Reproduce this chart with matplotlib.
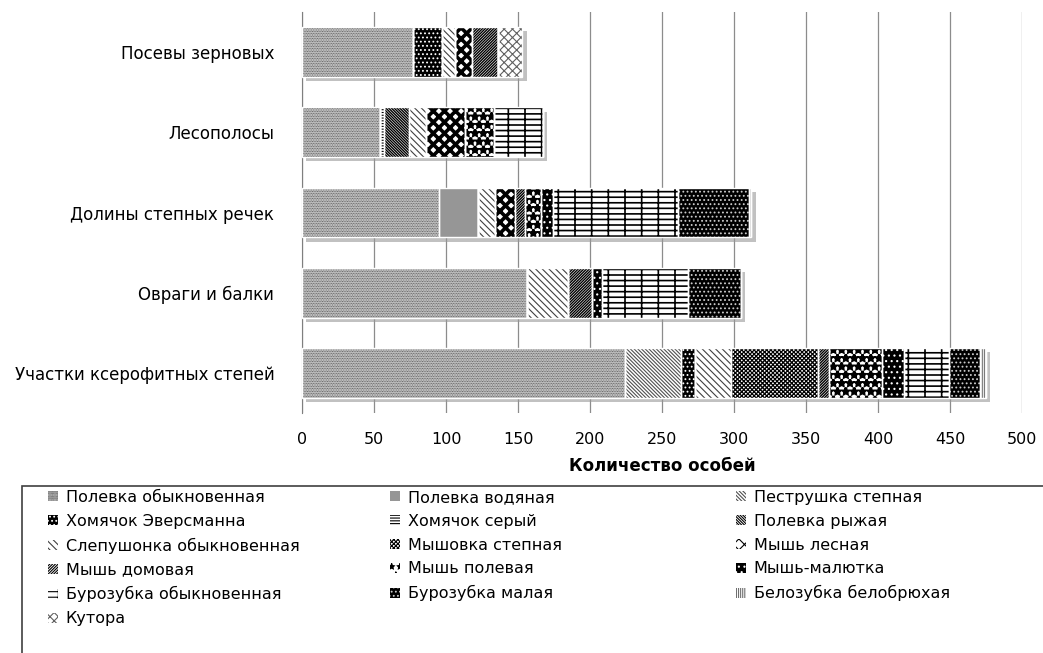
import numpy as np
import matplotlib.pyplot as plt
import matplotlib.patches as mpatches
import matplotlib.patheffects as pe

plt.rcParams['font.family'] = ['DejaVu Sans']
plt.rcParams['hatch.linewidth'] = 0.8

categories = ['Посевы зерновых', 'Лесополосы', 'Долины степных речек',
              'Овраги и балки', 'Участки ксерофитных степей']

species = ['Полевка обыкновенная', 'Полевка водяная', 'Пеструшка степная',
           'Хомячок Эверсманна', 'Хомячок серый', 'Полевка рыжая',
           'Слепушонка обыкновенная', 'Мышовка степная', 'Мышь лесная',
           'Мышь домовая', 'Мышь полевая', 'Мышь-малютка',
           'Бурозубка обыкновенная', 'Бурозубка малая', 'Белозубка белобрюхая',
           'Кутора']

# counts per habitat, in species order
posevy = [77, 0, 0, 20, 0, 0, 9, 0, 12, 18, 0, 0, 0, 0, 0, 17]
lesopolosy = [54, 0, 0, 0, 3, 17, 12, 0, 27, 0, 20, 0, 34, 0, 0, 0]
doliny = [95, 27, 0, 0, 0, 0, 12, 0, 14, 7, 11, 8, 87, 49, 2, 0]
ovragi = [156, 0, 0, 0, 0, 0, 29, 0, 0, 16, 0, 7, 60, 37, 0, 0]
uchastki = [224, 0, 39, 10, 0, 0, 25, 60, 0, 8, 37, 15, 31, 22, 4, 0]

xticks = [0, 50, 100, 150, 200, 250, 300, 350, 400, 450, 500]

data = np.array([posevy, lesopolosy, doliny, ovragi, uchastki], dtype=float)

# (face, hatch color, hatch, hatch linewidth)
styles = [
    ('#d8d8d8', '#444444', '.' * 10, 0.6),
    ('#969696', '#969696', None, 0.8),
    ('white', '#505050', '\\' * 9, 0.8),
    ('black', 'white', '....', 0.8),
    ('white', 'black', '------', 0.8),
    ('white', 'black', '\\' * 12, 1.0),
    ('white', '#404040', '\\' * 5, 0.8),
    ('white', 'black', 'x' * 8, 0.9),
    ('white', 'black', 'XXX', 2.6),
    ('white', 'black', '/' * 12, 1.0),
    ('white', 'black', '**', 1.8),
    ('black', 'white', '...', 0.8),
    ('white', 'black', '---|', 1.2),
    ('black', '#cccccc', '....', 0.8),
    ('white', '#707070', '|' * 8, 0.8),
    ('white', '#606060', 'xxxx', 0.8),
]

fig = plt.figure(figsize=(10.43, 6.53), dpi=100)
ax = fig.add_axes([0.2896, 0.3675, 0.6904, 0.6141])

ypos = np.arange(len(categories))
h = 0.62
totals = data.sum(axis=1)

# shadow under each bar
ax.barh(ypos, totals, h, color='white', linewidth=0, zorder=2,
        path_effects=[pe.SimplePatchShadow(offset=(3, -3), shadow_rgbFace='#999999', alpha=0.6),
                      pe.Normal()])

left = np.zeros(len(categories))
handles = []
for i, name in enumerate(species):
    fc, hc, hatch, hlw = styles[i]
    vals = data[:, i]
    with plt.rc_context({'hatch.linewidth': hlw}):
        bars = ax.barh(ypos, vals, h, left=left, color=fc, edgecolor=hc,
                       hatch=hatch, linewidth=0, zorder=3, label=name)
    ax.barh(ypos, vals, h, left=left, fill=False, edgecolor='white',
            linewidth=1.0, zorder=4)
    handles.append(bars[0])
    left += vals

ax.set_xlim(0, 500)
ax.set_ylim(4.5, -0.5)
ax.set_xticks(xticks)
ax.set_xticklabels([str(t) for t in xticks], fontsize=11.5)
ax.set_yticks(ypos)
ax.set_yticklabels(categories, fontsize=12)
ax.tick_params(axis='x', length=0, pad=14)
ax.tick_params(axis='y', length=0, pad=20)
ax.grid(axis='x', color='#8c8c8c', linewidth=0.9, zorder=0)
ax.set_axisbelow(True)
for s in ['top', 'right', 'bottom']:
    ax.spines[s].set_visible(False)
ax.spines['left'].set_color('#7f7f7f')
ax.set_xlabel('Количество особей', fontsize=12, fontweight='bold', labelpad=7)

# legend frame
fig.patches.append(mpatches.Rectangle((22 / 1043, -0.05), 1.1, 1 - 486 / 653 + 0.05,
                                      transform=fig.transFigure, fill=False,
                                      edgecolor='#404040', linewidth=1.2))

col_x = [48, 390, 736]
for c in range(3):
    idx = list(range(c, len(species), 3))
    fig.legend([handles[k] for k in idx], [species[k] for k in idx],
               loc='upper left', bbox_to_anchor=(col_x[c] / 1043, 1 - 490 / 653),
               frameon=False, fontsize=11.5, handlelength=0.6, handleheight=0.6,
               handletextpad=0.5, labelspacing=0.55, borderpad=0, borderaxespad=0)

fig.savefig('out.png', dpi=100)
